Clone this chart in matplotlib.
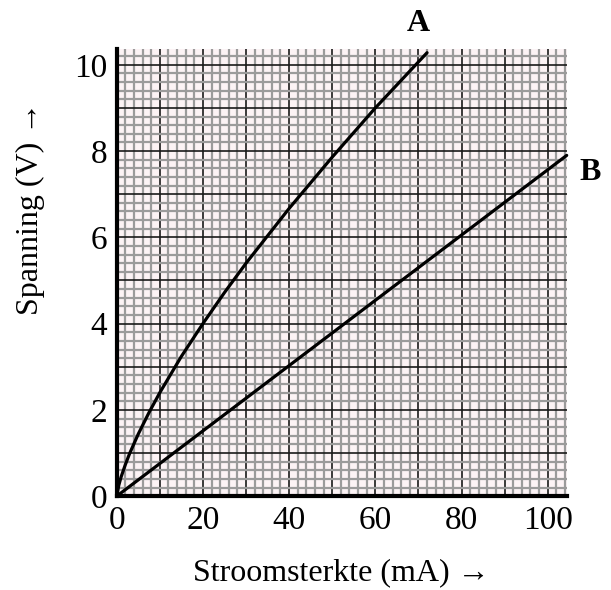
import numpy as np
import matplotlib
matplotlib.use('Agg')
import matplotlib.pyplot as plt

current_A = [0, 0.5, 1, 2, 3, 5, 7.5, 10, 15, 20, 25, 30, 40, 50, 60, 72]
voltage_A = [0, 0.26, 0.44, 0.73, 0.99, 1.44, 1.94, 2.40, 3.24, 4.0, 4.72, 5.40, 6.67, 7.86, 9.0, 10.28]

current_B = [0, 104.4]
voltage_B = [0, 7.9]

x_ticks = [0, 20, 40, 60, 80, 100]
y_ticks = [0, 2, 4, 6, 8, 10]

plt.rcParams['font.family'] = ['Liberation Serif', 'DejaVu Serif']

fig = plt.figure(figsize=(6.11, 5.90), dpi=100)
ax = fig.add_axes([0.191, 0.159, 0.7365, 0.7575])
ax.set_facecolor('#fcf3f5')

ax.set_xlim(0, 104.4)
ax.set_ylim(0, 10.36)

# graph paper: minor every 2 mA / 0.2 V, major every 10 mA / 1 V
ax.set_xticks(np.arange(0, 105, 10))
ax.set_xticks(np.arange(0, 105, 2), minor=True)
ax.set_yticks(np.arange(0, 10.4, 1))
ax.set_yticks(np.arange(0, 10.4, 0.2), minor=True)
ax.set_xticklabels([str(v) if v in x_ticks else '' for v in range(0, 105, 10)])
ax.set_yticklabels([str(v) if v in y_ticks else '' for v in range(0, 11)])

ax.grid(which='minor', color='#9b9b9b', linewidth=1.6)
ax.grid(which='major', color='#1a1a1a', linewidth=1.2)
ax.set_axisbelow(True)
ax.tick_params(which='both', length=0, labelsize=24, pad=7)

for s in ['top', 'right']:
    ax.spines[s].set_visible(False)
for s in ['left', 'bottom']:
    ax.spines[s].set_linewidth(3)
    ax.spines[s].set_zorder(5)

ax.plot(current_A, voltage_A, color='black', linewidth=2.3, solid_capstyle='round', zorder=4, clip_on=False)
ax.plot(current_B, voltage_B, color='black', linewidth=2.3, solid_capstyle='round', zorder=4, clip_on=False)

ax.text(70.0, 10.95, 'A', fontsize=23, fontweight='bold', ha='center', va='center')
ax.text(109.8, 7.5, 'B', fontsize=23, fontweight='bold', ha='center', va='center')

ax.set_xlabel('Stroomsterkte (mA) \u2192', fontsize=23, labelpad=16)
ax.set_ylabel('Spanning (V) \u2192', fontsize=23)
ax.yaxis.set_label_coords(-0.16, 0.645)

fig.savefig('out.png', dpi=100)
